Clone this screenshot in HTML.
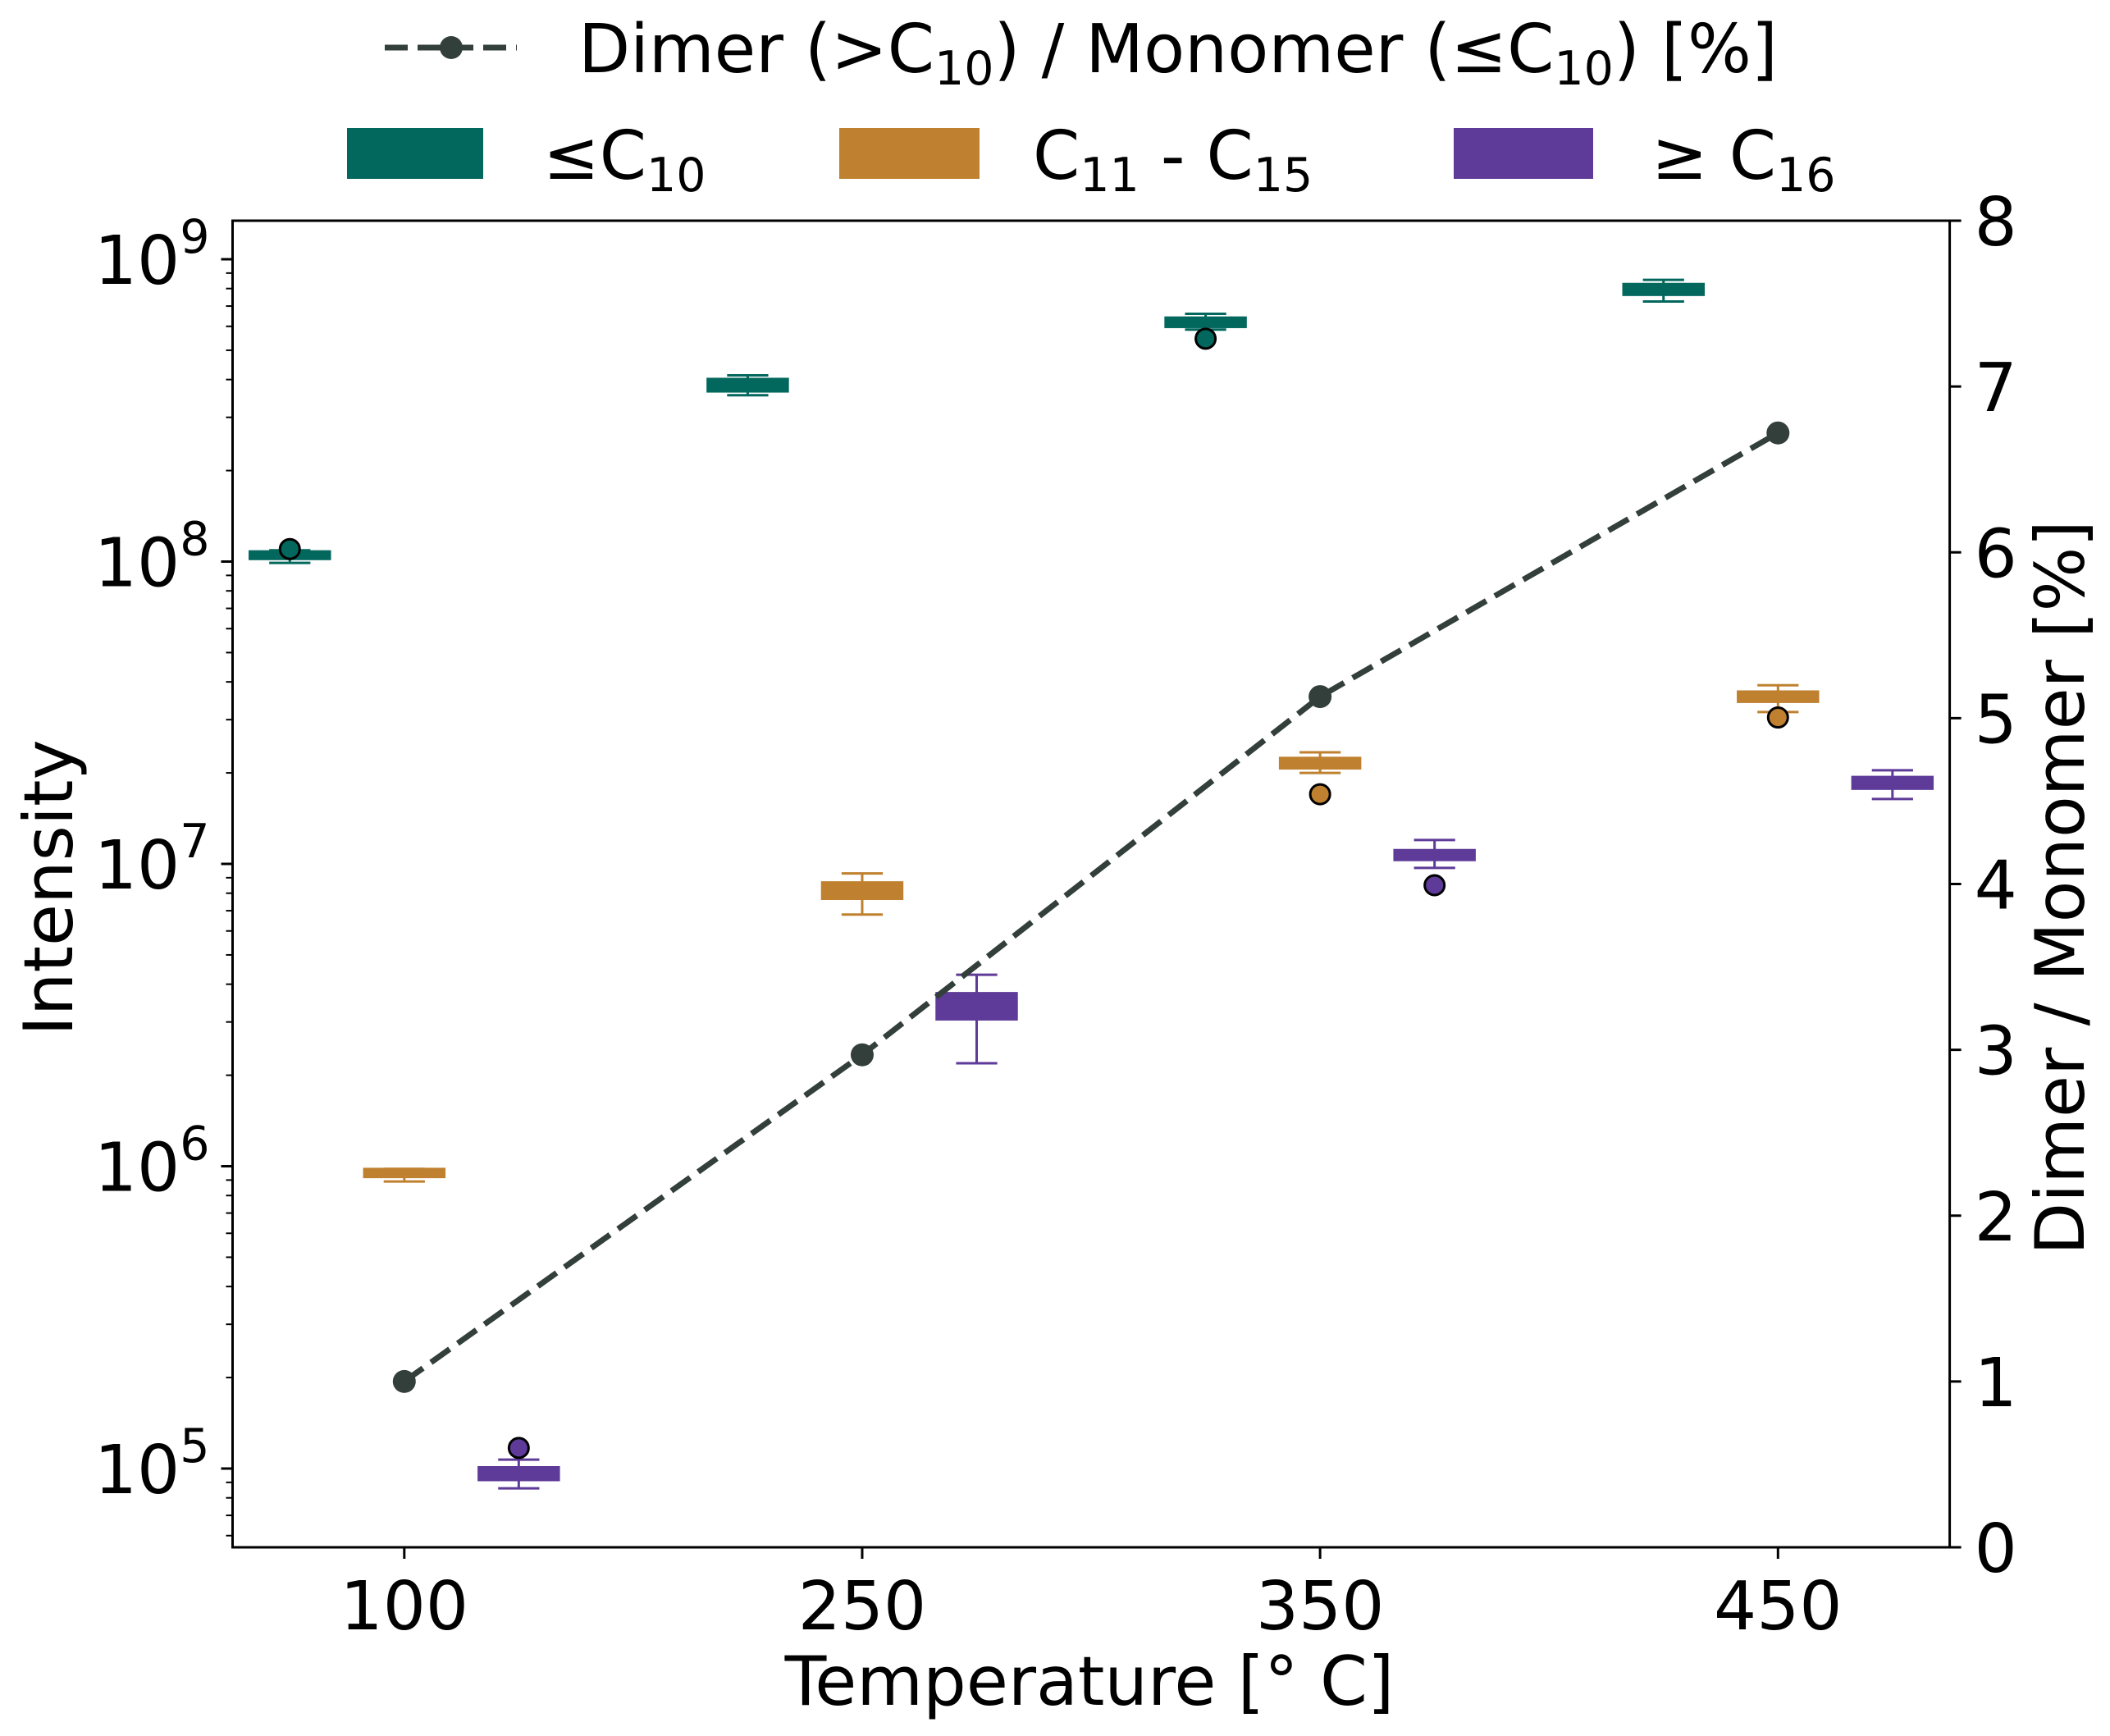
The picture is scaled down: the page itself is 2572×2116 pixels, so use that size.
<!DOCTYPE html>
<html><head><meta charset="utf-8"><style>
html,body{margin:0;padding:0;background:#fff}
svg{display:block;font-family:"DejaVu Sans","Liberation Sans",sans-serif}
</style></head><body>
<svg id="chart" width="2572" height="2116" viewBox="0 0 2572 2116" xmlns="http://www.w3.org/2000/svg">
<g id="plot"></g>
</svg>
<script>
// ---- data ----
const categories = ["100", "250", "350", "450"];
const groupNames = ["≤C10", "C11 - C15", "≥ C16"];
// box stats per group: [whislo, q1, med, q3, whishi]
const boxTeal = [[0.99e8,1.03e8,1.05e8,1.07e8,1.09e8],[3.55e8,3.69e8,3.85e8,3.98e8,4.13e8],[5.85e8,6.03e8,6.2e8,6.35e8,6.6e8],[7.25e8,7.7e8,7.95e8,8.2e8,8.55e8]];
const boxOrange = [[0.89e6,0.93e6,0.95e6,0.97e6,0.98e6],[6.8e6,7.74e6,8.1e6,8.6e6,9.3e6],[2.0e7,2.09e7,2.15e7,2.22e7,2.34e7],[3.18e7,3.47e7,3.57e7,3.68e7,3.9e7]];
const boxPurple = [[0.86e5,0.925e5,0.97e5,1.0e5,1.07e5],[2.19e6,3.09e6,3.4e6,3.7e6,4.3e6],[9.7e6,1.04e7,1.07e7,1.1e7,1.2e7],[1.64e7,1.79e7,1.85e7,1.92e7,2.04e7]];
const outTeal = [1.1e8, null, 5.46e8, null];
const outOrange = [null, null, 1.7e7, 3.05e7];
const outPurple = [1.17e5, null, 8.5e6, null];
const ratioValues = [1.0, 2.97, 5.13, 6.72];
const leftTickExps = [5, 6, 7, 8, 9];
const rightTicks = [0, 1, 2, 3, 4, 5, 6, 7, 8];

// ---- axes ----
const L = 283.5, R = 2376.6, T = 269, B = 1886;
const xMin = -0.375, xMax = 3.375;
const x = v => L + (v - xMin) / (xMax - xMin) * (R - L);
const decadePx = 368.5, y9 = 316;
const yL = v => y9 + (9 - Math.log10(v)) * decadePx;
const yR = v => B - v / 8 * (B - T);

const NS = "http://www.w3.org/2000/svg";
const plot = document.getElementById("plot");
function mk(tag, attrs, parent) {
  const e = document.createElementNS(NS, tag);
  for (const k in attrs) e.setAttribute(k, attrs[k]);
  (parent || plot).appendChild(e);
  return e;
}

const colors = ["#02675c", "#bf812f", "#5e3b98"];
const groups = [boxTeal, boxOrange, boxPurple];
const outs = [outTeal, outOrange, outPurple];
const offsets = [-0.25, 0, 0.25];
const boxW = 0.18;

groups.forEach((g, gi) => {
  g.forEach((s, ci) => {
    const cx = x(ci + offsets[gi]);
    const hw = (x(boxW) - x(0)) / 2;
    const c = colors[gi];
    const wl = mk("line", {x1: cx, x2: cx, y1: yL(s[0]), y2: yL(s[1]), stroke: c, "stroke-width": 3});
    
    
    const wh = mk("line", {x1: cx, x2: cx, y1: yL(s[3]), y2: yL(s[4]), stroke: c, "stroke-width": 3});
    
    
    [s[0], s[4]].forEach(v => {
      const cap = mk("line", {x1: cx - hw / 2, x2: cx + hw / 2, y1: yL(v), y2: yL(v), stroke: c, "stroke-width": 3});
      
      
    });
    const r = mk("rect", {x: cx - hw, width: 2 * hw, y: yL(s[3]) - 3, height: Math.max(yL(s[1]) - yL(s[3]) + 6, 6), fill: c});
    
    
    const o = outs[gi][ci];
    if (o !== null) {
      const d = mk("circle", {cx: cx, cy: yL(o), r: 12, fill: c, stroke: "#000", "stroke-width": 3});
      
      
    }
  });
});

const pts = ratioValues.map((v, i) => x(i) + "," + yR(v)).join(" ");
const line = mk("polyline", {points: pts, fill: "none", stroke: "#333f3a", "stroke-width": 7, "stroke-dasharray": "28,12"});


ratioValues.forEach((v, i) => {
  const m = mk("circle", {cx: x(i), cy: yR(v), r: 14, fill: "#333f3a"});
  
  
});

const frame = mk("rect", {x: L, y: T, width: R - L, height: B - T, fill: "none", stroke: "#000", "stroke-width": 3});



leftTickExps.forEach(e => {
  const yy = yL(Math.pow(10, e));
  const t = mk("line", {x1: L - 14, x2: L, y1: yy, y2: yy, stroke: "#000", "stroke-width": 3});
  
  
  const lb = mk("text", {x: L - 28, y: yy + 30, "font-size": 82, "text-anchor": "end"});
  
  
  lb.innerHTML = '10<tspan font-size="57" dy="-38">' + e + '</tspan>';
});
for (let e = 4; e <= 9; e++) {
  for (let k = 2; k <= 9; k++) {
    const yy = yL(k * Math.pow(10, e));
    if (yy < T || yy > B) continue;
    const t = mk("line", {x1: L - 8, x2: L, y1: yy, y2: yy, stroke: "#000", "stroke-width": 2});
    
    
  }
}
rightTicks.forEach(v => {
  const yy = yR(v);
  const t = mk("line", {x1: R, x2: R + 14, y1: yy, y2: yy, stroke: "#000", "stroke-width": 3});
  
  
  const lb = mk("text", {x: R + 30, y: yy + 30, "font-size": 82});
  
  
  lb.textContent = v;
});
categories.forEach((c, i) => {
  const xx = x(i);
  const t = mk("line", {x1: xx, x2: xx, y1: B, y2: B + 14, stroke: "#000", "stroke-width": 3});
  
  
  const lb = mk("text", {x: xx, y: B + 100, "font-size": 82, "text-anchor": "middle"});
  
  
  lb.textContent = c;
});
</script>
<script>
const svg = document.getElementById("chart");
svg.insertAdjacentHTML("beforeend", `
<text x="1328" y="2078" font-size="83" text-anchor="middle">Temperature [° C]</text>
<text transform="translate(88,1082) rotate(-90)" font-size="83" text-anchor="middle">Intensity</text>
<text transform="translate(2540,1082) rotate(-90)" font-size="83" text-anchor="middle">Dimer / Monomer [%]</text>
<g>
  <g>
    <line x1="469" x2="630" y1="58" y2="58" stroke="#333f3a" stroke-width="7" stroke-dasharray="28,12"/>
    <circle cx="550" cy="58" r="14" fill="#333f3a"/>
    <text x="705" y="88" font-size="82">Dimer (&gt;C<tspan font-size="57" dy="15">10</tspan><tspan dy="-15">) / Monomer (≤C</tspan><tspan font-size="57" dy="15">10</tspan><tspan dy="-15">) [%]</tspan></text>
  </g>
  <g>
    <rect x="423" y="156" width="166" height="62" fill="#02675c"/>
    <text x="662" y="218" font-size="82">≤C<tspan font-size="57" dy="15">10</tspan></text>
  </g>
  <g>
    <rect x="1023" y="156" width="171" height="62" fill="#bf812f"/>
    <text x="1259" y="218" font-size="82">C<tspan font-size="57" dy="15">11</tspan><tspan dy="-15"> - C</tspan><tspan font-size="57" dy="15">15</tspan></text>
  </g>
  <g>
    <rect x="1772" y="156" width="170" height="62" fill="#5e3b98"/>
    <text x="2013" y="218" font-size="82">≥ C<tspan font-size="57" dy="15">16</tspan></text>
  </g>
</g>`);
</script>
</body></html>
